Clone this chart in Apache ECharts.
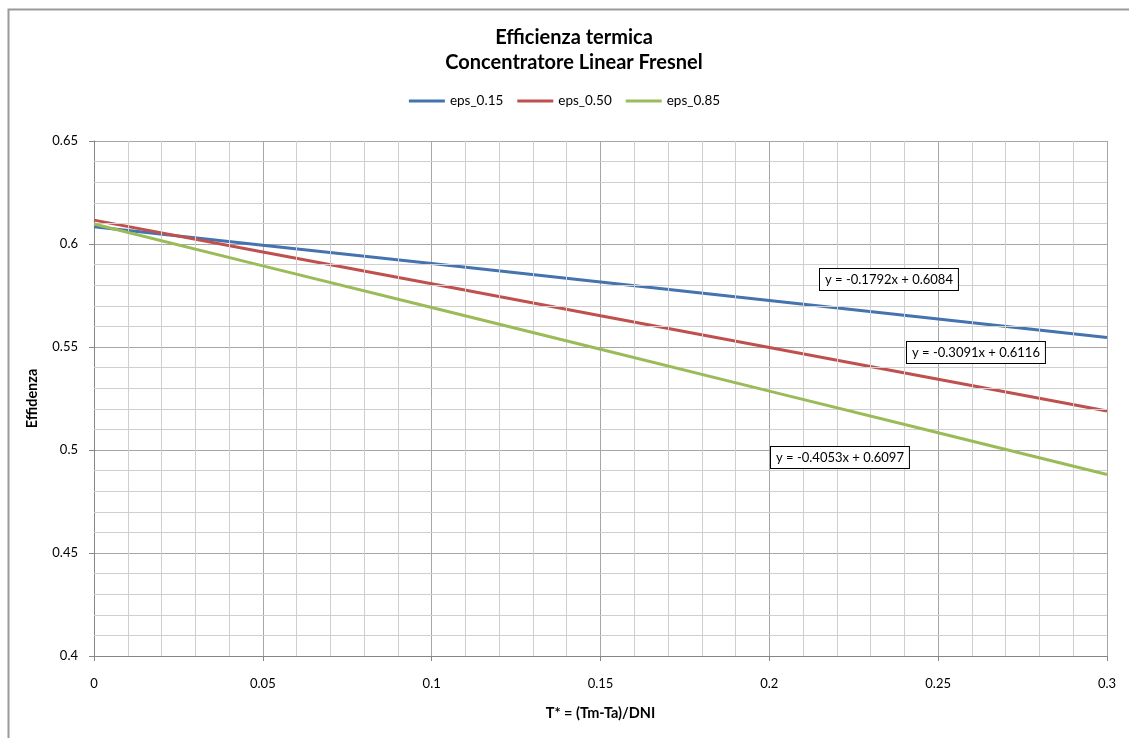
<!DOCTYPE html>
<html><head><meta charset="utf-8">
<script src="https://cdn.jsdelivr.net/npm/echarts@6/dist/echarts.min.js"></script>
<style>html,body{margin:0;padding:0;background:#fff}#c{width:1129px;height:738px}</style>
</head><body><div id="c"></div>
<script>
const xValues = [0, 0.05, 0.1, 0.15, 0.2, 0.25, 0.3];
const eps015 = [0.6084, 0.5994, 0.5905, 0.5815, 0.5726, 0.5636, 0.5546];
const eps050 = [0.6116, 0.5961, 0.5807, 0.5652, 0.5498, 0.5343, 0.5189];
const eps085 = [0.6097, 0.5894, 0.5692, 0.5489, 0.5286, 0.5084, 0.4881];
const seriesNames = ['eps_0.15', 'eps_0.50', 'eps_0.85'];
const trendLabels = ['y = -0.1792x + 0.6084', 'y = -0.3091x + 0.6116', 'y = -0.4053x + 0.6097'];
const colors = ['#4573B0', '#C0504D', '#9BBB59'];
const FONT = 'Lato, "Open Sans", sans-serif';

const chart = echarts.init(document.getElementById('c'));
const pair = arr => xValues.map((x, i) => [x, arr[i]]);
const allData = [eps015, eps050, eps085];

const minorGridX = [];
for (let i = 1; i < 30; i++) if (i % 5) minorGridX.push(i / 100);
const minorGridY = [];
for (let i = 41; i < 65; i++) if (i % 5) minorGridY.push(i / 100);

const boxStyle = t => ({ text: t, fontFamily: FONT, fontSize: 13, fill: '#000',
  backgroundColor: '#fff', borderColor: '#000', borderWidth: 1, padding: [4, 5, 4, 5] });

chart.setOption({
  animation: false,
  color: colors,
  title: {
    text: 'Efficienza termica\nConcentratore Linear Fresnel',
    left: 569, top: 20, textAlign: 'center',
    textStyle: { fontFamily: FONT, fontSize: 20, fontWeight: 'bold', color: '#000', lineHeight: 25 }
  },
  legend: {
    top: 89, left: 'center', itemWidth: 36, itemHeight: 3, itemGap: 14,
    icon: 'rect',
    textStyle: { fontFamily: FONT, fontSize: 13.5, color: '#000' },
    data: seriesNames
  },
  grid: { left: 94, right: 22, top: 141, bottom: 82 },
  xAxis: {
    type: 'value', min: 0, max: 0.3, interval: 0.05,
    name: 'T* = (Tm-Ta)/DNI', nameLocation: 'middle', nameGap: 50,
    nameTextStyle: { fontFamily: FONT, fontSize: 14.5, fontWeight: 'bold', color: '#000' },
    axisLine: { lineStyle: { color: '#868686' } },
    axisTick: { show: true, length: 5, lineStyle: { color: '#868686' } },
    axisLabel: { fontFamily: FONT, fontSize: 13, color: '#000', margin: 21,
      formatter: v => String(+v.toFixed(2)) },
    splitLine: { show: true, lineStyle: { color: '#a6a6a6', width: 1 } }
  },
  yAxis: {
    type: 'value', min: 0.4, max: 0.65, interval: 0.05,
    name: 'Effidenza', nameLocation: 'middle', nameGap: 54,
    nameTextStyle: { fontFamily: FONT, fontSize: 14.5, fontWeight: 'bold', color: '#000' },
    axisLine: { show: true, lineStyle: { color: '#868686' } },
    axisTick: { show: true, length: 5, lineStyle: { color: '#868686' } },
    axisLabel: { fontFamily: FONT, fontSize: 13, color: '#000', margin: 16,
      formatter: v => String(+v.toFixed(2)) },
    splitLine: { show: true, lineStyle: { color: '#a6a6a6', width: 1 } }
  },
  series: [
    ...seriesNames.map((n, k) => ({
      name: n, type: 'line', data: pair(allData[k]), showSymbol: false, symbol: 'none',
      lineStyle: { width: 3, color: colors[k] }, z: 3 + k
    })),
    {
      type: 'line', data: [], silent: true,
      markLine: {
        silent: true, symbol: 'none', label: { show: false },
        lineStyle: { color: '#cfcfcf', width: 1, type: 'solid' },
        data: [...minorGridX.map(v => ({ xAxis: v })), ...minorGridY.map(v => ({ yAxis: v }))]
      },
      z: 1
    }
  ],
  graphic: [
    { type: 'rect', left: 6, top: 7, shape: { width: 1200, height: 800 },
      style: { fill: 'none', stroke: '#9a9a9a', lineWidth: 2 }, silent: true },
    { type: 'text', left: 819, top: 268, z: 10, style: boxStyle(trendLabels[0]) },
    { type: 'text', left: 906, top: 341, z: 10, style: boxStyle(trendLabels[1]) },
    { type: 'text', left: 770, top: 446, z: 10, style: boxStyle(trendLabels[2]) }
  ]
});
</script></body></html>
